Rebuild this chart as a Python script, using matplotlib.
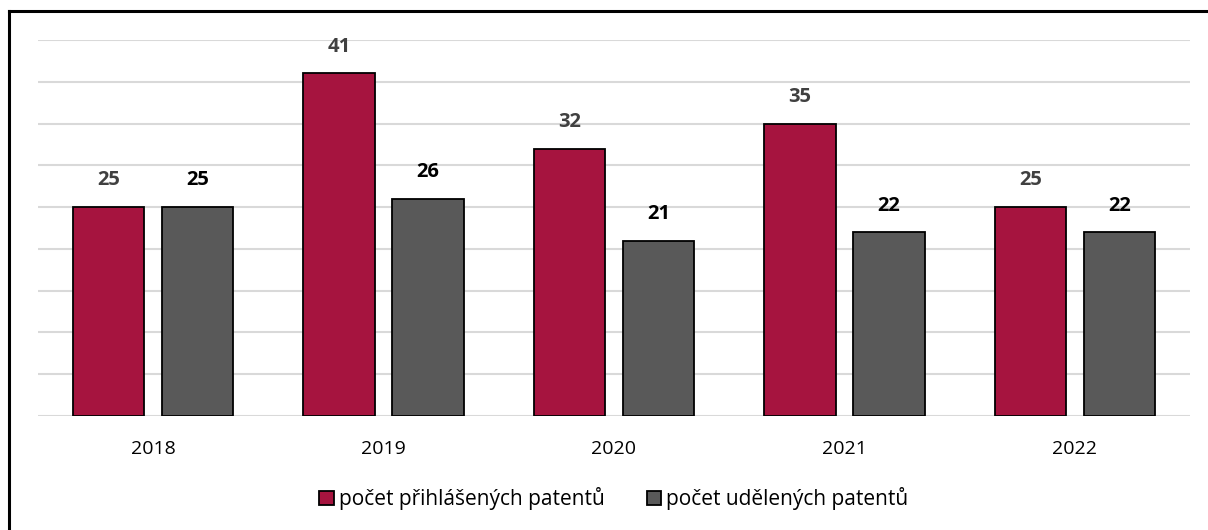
import matplotlib.pyplot as plt
import numpy as np
from matplotlib.lines import Line2D

years = ["2018", "2019", "2020", "2021", "2022"]
filed = [25, 41, 32, 35, 25]
granted = [25, 26, 21, 22, 22]
series_names = ["počet přihlášených patentů", "počet udělených patentů"]

RED = "#A6143F"
GRAY = "#595959"

plt.rcParams['font.family'] = ['Open Sans', 'DejaVu Sans']

fig = plt.figure(figsize=(12.08, 5.30), dpi=100)
ax = fig.add_axes([38 / 1208, 1 - 416 / 530, 1152 / 1208, 376 / 530])

x = np.arange(len(years))
w = 0.31
off = 0.193
b1 = ax.bar(x - off, filed, w, color=RED, edgecolor="black", linewidth=1.3,
            label=series_names[0], zorder=3)
b2 = ax.bar(x + off, granted, w, color=GRAY, edgecolor="black", linewidth=1.3,
            label=series_names[1], zorder=3)

ax.bar_label(b1, padding=12, fontsize=14.5, fontweight="bold", color="#404040")
ax.bar_label(b2, padding=12, fontsize=14.5, fontweight="bold", color="black")

ax.set_xlim(-0.5, len(years) - 0.5)
ax.set_ylim(0, 45)
ax.set_yticks(np.arange(0, 46, 5))
ax.set_yticklabels([])
ax.tick_params(axis="y", length=0)
ax.tick_params(axis="x", length=0, labelsize=14, pad=17)
ax.set_xticks(x)
ax.set_xticklabels(years)
ax.grid(axis="y", color="#D9D9D9", linewidth=1.5, zorder=0)
for s in ax.spines.values():
    s.set_visible(False)

ax.legend(loc="center", bbox_to_anchor=(0.5, -0.22), ncol=2, frameon=False,
          fontsize=15, handlelength=0.7, handleheight=0.7, handletextpad=0.25,
          columnspacing=2.0)

# outer frame (only left and top edges visible)
fig.add_artist(Line2D([9 / 1208, 9 / 1208], [0, 1 - 11 / 530], color="black",
                      linewidth=2.2, transform=fig.transFigure))
fig.add_artist(Line2D([9 / 1208, 1], [1 - 11 / 530, 1 - 11 / 530], color="black",
                      linewidth=2.2, transform=fig.transFigure))

fig.savefig("out.png", dpi=100)
